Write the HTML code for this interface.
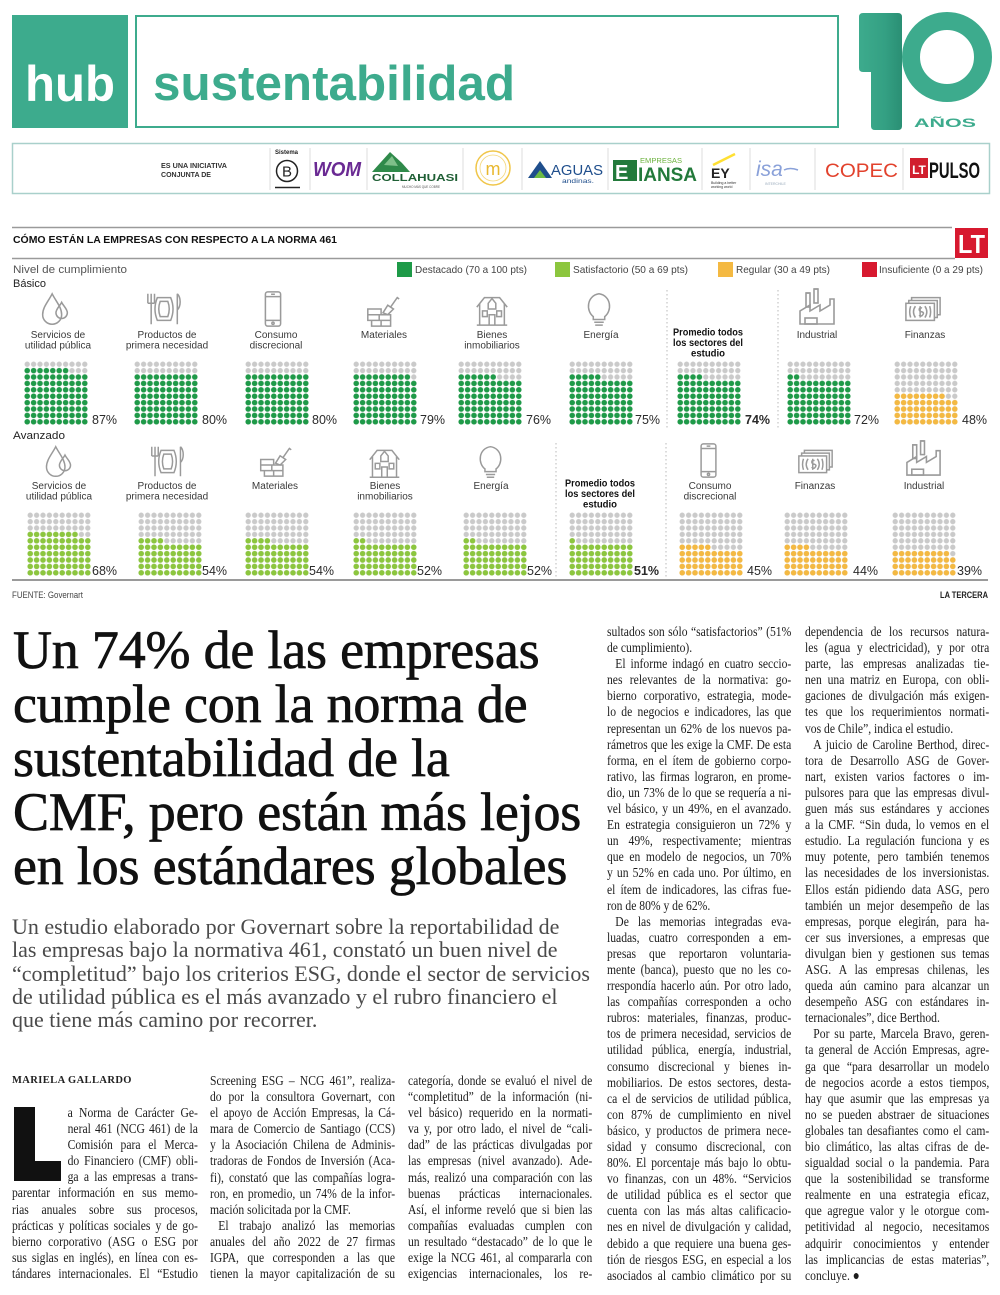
<!DOCTYPE html>
<html><head><meta charset="utf-8">
<style>
html,body{margin:0;padding:0;background:#fff;}
body{width:1000px;height:1295px;position:relative;overflow:hidden;font-family:"Liberation Sans",sans-serif;}
svg text{font-family:"Liberation Sans",sans-serif;}
.hl{position:absolute;left:13px;top:623px;font-family:"Liberation Serif",serif;font-size:54px;line-height:54px;color:#111;letter-spacing:-0.2px;-webkit-text-stroke:0.7px #111;white-space:nowrap;}
.deck{position:absolute;left:12px;top:915px;font-family:"Liberation Serif",serif;font-size:22px;line-height:23.3px;color:#4a4a4a;white-space:nowrap;}
.by{position:absolute;left:12px;top:1075px;font-family:"Liberation Serif",serif;font-weight:bold;font-size:10.5px;letter-spacing:0.4px;color:#222;}
.col{position:absolute;transform-origin:0 0;transform:scaleX(0.83);font-family:"Liberation Serif",serif;font-size:14px;line-height:16.1px;color:#1c1c1c;}
.col div{height:16.1px;white-space:nowrap;text-align:justify;text-align-last:justify;}
.col div.e{text-align-last:left;}
.col div.i{text-indent:10px;}
.col div.d{margin-left:67px;}
.dc{position:absolute;background:#111;}
</style></head><body>

<svg width="1000" height="610" viewBox="0 0 1000 610" style="position:absolute;left:0;top:0">
<defs>
<pattern id="pg" width="6.4" height="6.4" patternUnits="userSpaceOnUse"><circle cx="3.2" cy="3.2" r="2.65" fill="#cacaca"/></pattern>
<pattern id="pd" width="6.4" height="6.4" patternUnits="userSpaceOnUse"><circle cx="3.2" cy="3.2" r="2.75" fill="#1e9a48"/></pattern>
<pattern id="pl" width="6.4" height="6.4" patternUnits="userSpaceOnUse"><circle cx="3.2" cy="3.2" r="2.75" fill="#8cc63e"/></pattern>
<pattern id="py" width="6.4" height="6.4" patternUnits="userSpaceOnUse"><circle cx="3.2" cy="3.2" r="2.75" fill="#f4b942"/></pattern>
<linearGradient id="stem" x1="0" x2="1" y1="0" y2="0"><stop offset="0" stop-color="#3dab8d"/><stop offset="0.6" stop-color="#34a083"/><stop offset="1" stop-color="#2a8f74"/></linearGradient>

<symbol id="i-drop" viewBox="0 0 40 40"><g fill="none" stroke="#9a9a9a" stroke-width="1.6"><path d="M17 4 C13 12 7 18 7 26 a10 10 0 0 0 20 0 C27 18 21 12 17 4Z"/><path d="M27 13 C25 17 21 20 21 24 a6 6 0 0 0 12 0 C33 20 29 17 27 13Z"/></g></symbol>
<symbol id="i-plate" viewBox="0 0 40 40"><g fill="none" stroke="#9a9a9a" stroke-width="1.6"><path d="M3 4 v10 M6.5 4 v10 M10 4 v10 M3 14 h7 M6.5 14 v22"/><path d="M13 8 h14 q5 12 0 24 h-14 q-5 -12 0 -24z"/><path d="M16 12 h8 q3 8 0 16 h-8 q-3 -8 0 -16z"/><path d="M34 4 v32 M34 4 c4 4 4 13 0 17"/></g></symbol>
<symbol id="i-phone" viewBox="0 0 40 40"><g fill="none" stroke="#9a9a9a" stroke-width="1.6"><rect x="12" y="2" width="16" height="36" rx="2.5"/><path d="M12 7 h16 M12 32 h16 M18 4.5 h4"/><circle cx="20" cy="35" r="1.2"/></g></symbol>
<symbol id="i-brick" viewBox="0 0 40 40"><g fill="none" stroke="#9a9a9a" stroke-width="1.6"><path d="M4 20 h14 v6 h-14z M4 26 h24 v6 h-24z M8 32 h20 v6 h-20z M16 26 v6 M18 32 v6"/><path d="M20 24 l5 -8 l6 4 l-6 6z M28 18 l7 -10 l2 1.5"/></g></symbol>
<symbol id="i-house" viewBox="0 0 40 40"><g fill="none" stroke="#9a9a9a" stroke-width="1.6"><path d="M4 18 L12 8 H28 L36 18 M7 14 V37 H33 V14 M4 37 H36"/><path d="M16 14 L20 9 L24 14 V20 H16Z"/><rect x="10" y="22" width="5" height="6"/><rect x="25" y="22" width="5" height="6"/><path d="M17 37 V26 H23 V37"/></g></symbol>
<symbol id="i-bulb" viewBox="0 0 40 40"><g fill="none" stroke="#9a9a9a" stroke-width="1.6"><path d="M14 28 C6 22 7 6 20 4 C33 6 34 22 26 28 V31 H14Z"/><path d="M15 34 h10 M16 37 h8"/></g></symbol>
<symbol id="i-fact" viewBox="0 0 40 40"><g fill="none" stroke="#9a9a9a" stroke-width="1.6"><path d="M3 37 V24 L13 18 V24 L23 18 V24 L33 18 V12 L37 12 V37Z"/><rect x="9" y="6" width="4" height="14"/><rect x="17" y="2" width="4" height="14"/><path d="M9 6 h4 M17 2 h4"/><rect x="8" y="31" width="12" height="6"/></g></symbol>
<symbol id="i-money" viewBox="0 0 40 40"><g fill="none" stroke="#9a9a9a" stroke-width="1.6"><rect x="2" y="14" width="30" height="18"/><path d="M5 14 V11 H35 V29 H32 M8 11 V8 H38 V26 H35"/><path d="M12 17 q-4 6 0 12 M22 17 q4 6 0 12 M19 19 q-3 -1 -3 1.5 q0 2 3 2.5 q3 1 0 4 q-2 1 -3 -1 M17 17 v12"/><path d="M7 17 q-2 6 0 12 M27 17 q2 6 0 12"/></g></symbol>
</defs>

<!-- HEADER -->
<rect x="12" y="15" width="116" height="113" fill="#3dab8d"/>
<text x="70" y="101" font-size="50" font-weight="bold" fill="#fff" text-anchor="middle" textLength="90" lengthAdjust="spacingAndGlyphs">hub</text>
<rect x="136" y="16" width="702" height="111" fill="none" stroke="#3dab8d" stroke-width="2"/>
<text x="153" y="100" font-size="49" font-weight="bold" fill="#3dab8d" textLength="362" lengthAdjust="spacingAndGlyphs">sustentabilidad</text>

<path d="M859 17 Q859 13 863 13 L898 13 Q902 13 902 17 L902 126 Q902 130 898 130 L875 130 Q871 130 871 126 L871 72 L863 72 Q859 72 859 68 Z" fill="url(#stem)"/>
<circle cx="947" cy="57" r="36" fill="none" stroke="#3dab8d" stroke-width="18"/>
<text x="914" y="127" font-size="12" font-weight="bold" fill="#3dab8d" textLength="62" lengthAdjust="spacingAndGlyphs">AÑOS</text>

<!-- logo bar -->
<rect x="12.5" y="143.5" width="977" height="50" fill="none" stroke="#a9d0cb" stroke-width="1.5"/>
<text x="161" y="168" font-size="7.5" font-weight="bold" fill="#333" textLength="66" lengthAdjust="spacingAndGlyphs">ES UNA INICIATIVA</text>
<text x="161" y="177" font-size="7.5" font-weight="bold" fill="#333" textLength="50" lengthAdjust="spacingAndGlyphs">CONJUNTA DE</text>
<g stroke="#dcdcdc" stroke-width="1">
<line x1="270" y1="148" x2="270" y2="190"/><line x1="310" y1="148" x2="310" y2="190"/><line x1="367" y1="148" x2="367" y2="190"/><line x1="463" y1="148" x2="463" y2="190"/><line x1="522" y1="148" x2="522" y2="190"/><line x1="608" y1="148" x2="608" y2="190"/><line x1="702" y1="148" x2="702" y2="190"/><line x1="750" y1="148" x2="750" y2="190"/><line x1="815" y1="148" x2="815" y2="190"/><line x1="903" y1="148" x2="903" y2="190"/>
</g>
<text x="275" y="154" font-size="6" font-weight="bold" fill="#222">Sistema</text>
<circle cx="287" cy="171" r="10.5" fill="none" stroke="#222" stroke-width="1.5"/>
<text x="287" y="176.5" font-size="15" fill="#222" text-anchor="middle">B</text>
<line x1="275" y1="187.5" x2="300" y2="187.5" stroke="#222" stroke-width="1.5"/>
<text x="313" y="176" font-size="20" font-weight="bold" fill="#6a2a93" textLength="48" lengthAdjust="spacingAndGlyphs" font-style="italic">WOM</text>
<path d="M372 172 L390 152 L402 163 L410 172 Z" fill="#2f8a4a"/>
<path d="M384 165 L392 156 L398 166 Z" fill="#7fc08a"/>
<text x="372" y="181" font-size="10.5" font-weight="bold" fill="#1f5f35" textLength="86" lengthAdjust="spacingAndGlyphs">COLLAHUASI</text>
<text x="402" y="188" font-size="4" fill="#555" textLength="38" lengthAdjust="spacingAndGlyphs">MUCHO MÁS QUE COBRE</text>
<circle cx="493" cy="168" r="17" fill="none" stroke="#f0c64a" stroke-width="1.5"/>
<circle cx="493" cy="168" r="13" fill="none" stroke="#f4d77a" stroke-width="0.8"/>
<text x="493" y="175" font-size="18" fill="#e8b82f" text-anchor="middle">m</text>
<path d="M528 178 L540 161 L552 178 Z" fill="#1f4e8c"/>
<path d="M534 178 L540 170 L546 178 Z" fill="#6dbb45"/>
<text x="551" y="175" font-size="15" fill="#1f4e8c" textLength="52" lengthAdjust="spacingAndGlyphs">AGUAS</text>
<text x="562" y="183" font-size="6" fill="#1f4e8c" textLength="32" lengthAdjust="spacingAndGlyphs">andinas.</text>
<rect x="613" y="160" width="24" height="21" fill="#237a3b"/>
<text x="615" y="179" font-size="20" font-weight="bold" fill="#fff">E</text>
<text x="640" y="163" font-size="7" fill="#6db33f" textLength="42" lengthAdjust="spacingAndGlyphs">EMPRESAS</text>
<text x="638" y="181" font-size="19" font-weight="bold" fill="#237a3b" textLength="59" lengthAdjust="spacingAndGlyphs">IANSA</text>
<line x1="713" y1="165" x2="735" y2="154" stroke="#ffe033" stroke-width="2.5"/>
<text x="711" y="178" font-size="14" font-weight="bold" fill="#222">EY</text>
<text x="711" y="184" font-size="3.5" fill="#333">Building a better</text>
<text x="711" y="188" font-size="3.5" fill="#333">working world</text>
<text x="756" y="176" font-size="21" font-style="italic" fill="#8aa1d9" font-family="Liberation Serif">isa</text>
<path d="M784 170 q6 -3 14 0" stroke="#8aa1d9" stroke-width="1.5" fill="none"/>
<text x="765" y="185" font-size="3.5" fill="#9ab">INTERCHILE</text>
<text x="825" y="177" font-size="19" fill="#e2422d" textLength="73" lengthAdjust="spacingAndGlyphs">COPEC</text>
<rect x="910" y="158" width="18" height="20" fill="#d11f2e"/>
<text x="919" y="174" font-size="12" font-weight="bold" fill="#fff" text-anchor="middle">LT</text>
<text x="929" y="178" font-size="22" font-weight="bold" fill="#111" textLength="51" lengthAdjust="spacingAndGlyphs">PULSO</text>

<!-- CHART HEADER -->
<line x1="12" y1="227.5" x2="952" y2="227.5" stroke="#9a9a9a" stroke-width="1.5"/>
<rect x="955" y="228" width="33" height="30" fill="#d7192f"/>
<text x="971.5" y="253" font-size="26" font-weight="bold" fill="#fff" text-anchor="middle" textLength="27" lengthAdjust="spacingAndGlyphs">LT</text>
<text x="13" y="243" font-size="10.5" font-weight="bold" fill="#111" textLength="324" lengthAdjust="spacingAndGlyphs">CÓMO ESTÁN LA EMPRESAS CON RESPECTO A LA NORMA 461</text>
<line x1="12" y1="258.5" x2="955" y2="258.5" stroke="#9a9a9a" stroke-width="1.5"/>
<text x="13" y="273" font-size="11" fill="#555" textLength="114" lengthAdjust="spacingAndGlyphs">Nivel de cumplimiento</text>
<text x="13" y="287" font-size="11" fill="#222" textLength="33" lengthAdjust="spacingAndGlyphs">Básico</text>

<rect x="397" y="262" width="15" height="15" fill="#1e9a48"/>
<text x="415" y="273" font-size="10.5" fill="#444" textLength="112" lengthAdjust="spacingAndGlyphs">Destacado (70 a 100 pts)</text>
<rect x="555" y="262" width="15" height="15" fill="#8cc63e"/>
<text x="573" y="273" font-size="10.5" fill="#444" textLength="115" lengthAdjust="spacingAndGlyphs">Satisfactorio (50 a 69 pts)</text>
<rect x="718" y="262" width="15" height="15" fill="#f4b942"/>
<text x="736" y="273" font-size="10.5" fill="#444" textLength="94" lengthAdjust="spacingAndGlyphs">Regular (30 a 49 pts)</text>
<rect x="862" y="262" width="15" height="15" fill="#d7192f"/>
<text x="879" y="273" font-size="10.5" fill="#444" textLength="104" lengthAdjust="spacingAndGlyphs">Insuficiente (0 a 29 pts)</text>

<!-- separators -->
<g stroke="#b8b8b8" stroke-width="1" stroke-dasharray="1.5,2.5">
<line x1="667" y1="290" x2="667" y2="428"/><line x1="778" y1="290" x2="778" y2="428"/>
<line x1="556" y1="443" x2="556" y2="578"/><line x1="666" y1="443" x2="666" y2="578"/>
</g>

<!-- TOP ROW ICONS -->
<use href="#i-drop" x="36" y="290" width="38" height="38"/>
<use href="#i-plate" x="145" y="290" width="38" height="38"/>
<use href="#i-phone" x="254" y="290" width="38" height="38"/>
<use href="#i-brick" x="364" y="290" width="38" height="38"/>
<use href="#i-house" x="473" y="290" width="38" height="38"/>
<use href="#i-bulb" x="580" y="290" width="38" height="38"/>
<use href="#i-fact" x="797" y="287" width="40" height="40"/>
<use href="#i-money" x="904" y="290" width="38" height="38"/>

<!-- TOP ROW LABELS -->
<g font-size="10" fill="#3a3a3a" text-anchor="middle">
<text x="58" y="338">Servicios de</text><text x="58" y="348.5">utilidad pública</text>
<text x="167" y="338">Productos de</text><text x="167" y="348.5">primera necesidad</text>
<text x="276" y="338">Consumo</text><text x="276" y="348.5">discrecional</text>
<text x="384" y="338">Materiales</text>
<text x="492" y="338">Bienes</text><text x="492" y="348.5">inmobiliarios</text>
<text x="601" y="338">Energía</text>
<text x="817" y="338">Industrial</text>
<text x="925" y="338">Finanzas</text>
</g>
<g font-size="10" font-weight="bold" fill="#111" text-anchor="middle">
<text x="708" y="335.5" textLength="70" lengthAdjust="spacingAndGlyphs">Promedio todos</text>
<text x="708" y="346" textLength="70" lengthAdjust="spacingAndGlyphs">los sectores del</text>
<text x="708" y="356.5" textLength="34" lengthAdjust="spacingAndGlyphs">estudio</text>
</g>

<!-- TOP ROW GRIDS -->
<g transform="translate(24,361)"><rect width="64" height="64" fill="url(#pg)"/><rect y="12.8" width="64" height="51.2" fill="url(#pd)"/><rect y="6.4" width="44.8" height="6.4" fill="url(#pd)"/></g>
<g transform="translate(134,361)"><rect width="64" height="64" fill="url(#pg)"/><rect y="12.8" width="64" height="51.2" fill="url(#pd)"/></g>
<g transform="translate(245,361)"><rect width="64" height="64" fill="url(#pg)"/><rect y="12.8" width="64" height="51.2" fill="url(#pd)"/></g>
<g transform="translate(353,361)"><rect width="64" height="64" fill="url(#pg)"/><rect y="19.2" width="64" height="44.8" fill="url(#pd)"/><rect y="12.8" width="57.6" height="6.4" fill="url(#pd)"/></g>
<g transform="translate(458,361)"><rect width="64" height="64" fill="url(#pg)"/><rect y="19.2" width="64" height="44.8" fill="url(#pd)"/><rect y="12.8" width="38.4" height="6.4" fill="url(#pd)"/></g>
<g transform="translate(569,361)"><rect width="64" height="64" fill="url(#pg)"/><rect y="19.2" width="64" height="44.8" fill="url(#pd)"/><rect y="12.8" width="32" height="6.4" fill="url(#pd)"/></g>
<g transform="translate(677,361)"><rect width="64" height="64" fill="url(#pg)"/><rect y="19.2" width="64" height="44.8" fill="url(#pd)"/><rect y="12.8" width="25.6" height="6.4" fill="url(#pd)"/></g>
<g transform="translate(787,361)"><rect width="64" height="64" fill="url(#pg)"/><rect y="19.2" width="64" height="44.8" fill="url(#pd)"/><rect y="12.8" width="12.8" height="6.4" fill="url(#pd)"/></g>
<g transform="translate(894,361)"><rect width="64" height="64" fill="url(#pg)"/><rect y="38.4" width="64" height="25.6" fill="url(#py)"/><rect y="32" width="51.2" height="6.4" fill="url(#py)"/></g>

<g font-size="12.5" fill="#2a2a2a">
<text x="92" y="424">87%</text><text x="202" y="424">80%</text><text x="312" y="424">80%</text><text x="420" y="424">79%</text><text x="526" y="424">76%</text><text x="635" y="424">75%</text><text x="745" y="424" font-weight="bold">74%</text><text x="854" y="424">72%</text><text x="962" y="424">48%</text>
</g>

<text x="13" y="439" font-size="11" fill="#222" textLength="52" lengthAdjust="spacingAndGlyphs">Avanzado</text>

<!-- BOTTOM ROW ICONS -->
<use href="#i-drop" x="40" y="443" width="37" height="37"/>
<use href="#i-plate" x="149" y="443" width="37" height="37"/>
<use href="#i-brick" x="257" y="441" width="37" height="37"/>
<use href="#i-house" x="366" y="443" width="37" height="37"/>
<use href="#i-bulb" x="472" y="443" width="37" height="37"/>
<use href="#i-phone" x="690" y="442" width="37" height="37"/>
<use href="#i-money" x="797" y="443" width="37" height="37"/>
<use href="#i-fact" x="904" y="439" width="39" height="39"/>

<g font-size="10" fill="#3a3a3a" text-anchor="middle">
<text x="59" y="489">Servicios de</text><text x="59" y="499.5">utilidad pública</text>
<text x="167" y="489">Productos de</text><text x="167" y="499.5">primera necesidad</text>
<text x="275" y="489">Materiales</text>
<text x="385" y="489">Bienes</text><text x="385" y="499.5">inmobiliarios</text>
<text x="491" y="489">Energía</text>
<text x="710" y="489">Consumo</text><text x="710" y="499.5">discrecional</text>
<text x="815" y="489">Finanzas</text>
<text x="924" y="489">Industrial</text>
</g>
<g font-size="10" font-weight="bold" fill="#111" text-anchor="middle">
<text x="600" y="486.5" textLength="70" lengthAdjust="spacingAndGlyphs">Promedio todos</text>
<text x="600" y="497" textLength="70" lengthAdjust="spacingAndGlyphs">los sectores del</text>
<text x="600" y="507.5" textLength="34" lengthAdjust="spacingAndGlyphs">estudio</text>
</g>

<!-- BOTTOM ROW GRIDS -->
<g transform="translate(27,512)"><rect width="64" height="64" fill="url(#pg)"/><rect y="25.6" width="64" height="38.4" fill="url(#pl)"/><rect y="19.2" width="51.2" height="6.4" fill="url(#pl)"/></g>
<g transform="translate(138,512)"><rect width="64" height="64" fill="url(#pg)"/><rect y="32" width="64" height="32" fill="url(#pl)"/><rect y="25.6" width="25.6" height="6.4" fill="url(#pl)"/></g>
<g transform="translate(245,512)"><rect width="64" height="64" fill="url(#pg)"/><rect y="32" width="64" height="32" fill="url(#pl)"/><rect y="25.6" width="25.6" height="6.4" fill="url(#pl)"/></g>
<g transform="translate(353,512)"><rect width="64" height="64" fill="url(#pg)"/><rect y="32" width="64" height="32" fill="url(#pl)"/><rect y="25.6" width="12.8" height="6.4" fill="url(#pl)"/></g>
<g transform="translate(463,512)"><rect width="64" height="64" fill="url(#pg)"/><rect y="32" width="64" height="32" fill="url(#pl)"/><rect y="25.6" width="12.8" height="6.4" fill="url(#pl)"/></g>
<g transform="translate(569,512)"><rect width="64" height="64" fill="url(#pg)"/><rect y="32" width="64" height="32" fill="url(#pl)"/><rect y="25.6" width="6.4" height="6.4" fill="url(#pl)"/></g>
<g transform="translate(679,512)"><rect width="64" height="64" fill="url(#pg)"/><rect y="38.4" width="64" height="25.6" fill="url(#py)"/><rect y="32" width="32" height="6.4" fill="url(#py)"/></g>
<g transform="translate(784,512)"><rect width="64" height="64" fill="url(#pg)"/><rect y="38.4" width="64" height="25.6" fill="url(#py)"/><rect y="32" width="25.6" height="6.4" fill="url(#py)"/></g>
<g transform="translate(892,512)"><rect width="64" height="64" fill="url(#pg)"/><rect y="44.8" width="64" height="19.2" fill="url(#py)"/><rect y="38.4" width="57.6" height="6.4" fill="url(#py)"/></g>

<g font-size="12.5" fill="#2a2a2a">
<text x="92" y="575">68%</text><text x="202" y="575">54%</text><text x="309" y="575">54%</text><text x="417" y="575">52%</text><text x="527" y="575">52%</text><text x="634" y="575" font-weight="bold">51%</text><text x="747" y="575">45%</text><text x="853" y="575">44%</text><text x="957" y="575">39%</text>
</g>

<line x1="12" y1="580" x2="988" y2="580" stroke="#9a9a9a" stroke-width="2"/>
<text x="12" y="598" font-size="9" fill="#444" textLength="71" lengthAdjust="spacingAndGlyphs">FUENTE: Governart</text>
<text x="988" y="598" font-size="9" font-weight="bold" fill="#222" text-anchor="end" textLength="48" lengthAdjust="spacingAndGlyphs">LA TERCERA</text>
</svg>

<div class="hl">Un 74% de las empresas<br>cumple con la norma de<br>sustentabilidad de la<br>CMF, pero están más lejos<br>en los estándares globales</div>

<div class="deck">Un estudio elaborado por Governart sobre la reportabilidad de<br>las empresas bajo la normativa 461, constató un buen nivel de<br>“completitud” bajo los criterios ESG, donde el sector de servicios<br>de utilidad pública es el más avanzado y el rubro financiero el<br>que tiene más camino por recorrer.</div>

<div class="by">MARIELA GALLARDO</div>

<div class="dc" style="left:14px;top:1107px;width:21px;height:74px;"></div>
<div class="dc" style="left:14px;top:1161px;width:47px;height:20px;"></div>

<div class="col" style="left:12px;top:1106px;width:224px;">
<div class="d">a Norma de Carácter Ge-</div>
<div class="d">neral 461 (NCG 461) de la</div>
<div class="d">Comisión para el Merca-</div>
<div class="d">do Financiero (CMF) obli-</div>
<div class="d">ga a las empresas a trans-</div>
<div>parentar información en sus memo-</div>
<div>rias anuales sobre sus procesos,</div>
<div>prácticas y políticas sociales y de go-</div>
<div>bierno corporativo (ASG o ESG por</div>
<div>sus siglas en inglés), en línea con es-</div>
<div>tándares internacionales. El “Estudio</div>
</div>

<div class="col" style="left:210px;top:1074px;width:223px;">
<div>Screening ESG – NCG 461”, realiza-</div>
<div>do por la consultora Governart, con</div>
<div>el apoyo de Acción Empresas, la Cá-</div>
<div>mara de Comercio de Santiago (CCS)</div>
<div>y la Asociación Chilena de Adminis-</div>
<div>tradoras de Fondos de Inversión (Aca-</div>
<div>fi), constató que las compañías logra-</div>
<div>ron, en promedio, un 74% de la infor-</div>
<div class="e">mación solicitada por la CMF.</div>
<div class="i">El trabajo analizó las memorias</div>
<div>anuales del año 2022 de 27 firmas</div>
<div>IGPA, que corresponden a las que</div>
<div>tienen la mayor capitalización de su</div>
</div>

<div class="col" style="left:408px;top:1074px;width:222px;">
<div>categoría, donde se evaluó el nivel de</div>
<div>“completitud” de la información (ni-</div>
<div>vel básico) requerido en la normati-</div>
<div>va y, por otro lado, el nivel de “cali-</div>
<div>dad” de las prácticas divulgadas por</div>
<div>las empresas (nivel avanzado). Ade-</div>
<div>más, realizó una comparación con las</div>
<div>buenas prácticas internacionales.</div>
<div>Así, el informe reveló que si bien las</div>
<div>compañías evaluadas cumplen con</div>
<div>un resultado “destacado” de lo que le</div>
<div>exige la NCG 461, al compararla con</div>
<div>exigencias internacionales, los re-</div>
</div>

<div class="col" style="left:607px;top:625px;width:222px;">
<div>sultados son sólo “satisfactorios” (51%</div>
<div class="e">de cumplimiento).</div>
<div class="i">El informe indagó en cuatro seccio-</div>
<div>nes relevantes de la normativa: go-</div>
<div>bierno corporativo, estrategia, mode-</div>
<div>lo de negocios e indicadores, las que</div>
<div>representan un 62% de los nuevos pa-</div>
<div>rámetros que les exige la CMF. De esta</div>
<div>forma, en el ítem de gobierno corpo-</div>
<div>rativo, las firmas lograron, en prome-</div>
<div>dio, un 73% de lo que se requería a ni-</div>
<div>vel básico, y un 49%, en el avanzado.</div>
<div>En estrategia consiguieron un 72% y</div>
<div>un 49%, respectivamente; mientras</div>
<div>que en modelo de negocios, un 70%</div>
<div>y un 52% en cada uno. Por último, en</div>
<div>el ítem de indicadores, las cifras fue-</div>
<div class="e">ron de 80% y de 62%.</div>
<div class="i">De las memorias integradas eva-</div>
<div>luadas, cuatro corresponden a em-</div>
<div>presas que reportaron voluntaria-</div>
<div>mente (banca), puesto que no les co-</div>
<div>rrespondía hacerlo aún. Por otro lado,</div>
<div>las compañías corresponden a ocho</div>
<div>rubros: materiales, finanzas, produc-</div>
<div>tos de primera necesidad, servicios de</div>
<div>utilidad pública, energía, industrial,</div>
<div>consumo discrecional y bienes in-</div>
<div>mobiliarios. De estos sectores, desta-</div>
<div>ca el de servicios de utilidad pública,</div>
<div>con 87% de cumplimiento en nivel</div>
<div>básico, y productos de primera nece-</div>
<div>sidad y consumo discrecional, con</div>
<div>80%. El porcentaje más bajo lo obtu-</div>
<div>vo finanzas, con un 48%. “Servicios</div>
<div>de utilidad pública es el sector que</div>
<div>cuenta con las más altas calificacio-</div>
<div>nes en nivel de divulgación y calidad,</div>
<div>debido a que requiere una buena ges-</div>
<div>tión de riesgos ESG, en especial a los</div>
<div>asociados al cambio climático por su</div>
</div>

<div class="col" style="left:805px;top:625px;width:222px;">
<div>dependencia de los recursos natura-</div>
<div>les (agua y electricidad), y por otra</div>
<div>parte, las empresas analizadas tie-</div>
<div>nen una matriz en Europa, con obli-</div>
<div>gaciones de divulgación más exigen-</div>
<div>tes que los requerimientos normati-</div>
<div class="e">vos de Chile”, indica el estudio.</div>
<div class="i">A juicio de Caroline Berthod, direc-</div>
<div>tora de Desarrollo ASG de Gover-</div>
<div>nart, existen varios factores o im-</div>
<div>pulsores para que las empresas divul-</div>
<div>guen más sus estándares y acciones</div>
<div>a la CMF. “Sin duda, lo vemos en el</div>
<div>estudio. La regulación funciona y es</div>
<div>muy potente, pero también tenemos</div>
<div>las necesidades de los inversionistas.</div>
<div>Ellos están pidiendo data ASG, pero</div>
<div>también un mejor desempeño de las</div>
<div>empresas, porque elegirán, para ha-</div>
<div>cer sus inversiones, a empresas que</div>
<div>divulgan bien y gestionen sus temas</div>
<div>ASG. A las empresas chilenas, les</div>
<div>queda aún camino para alcanzar un</div>
<div>desempeño ASG con estándares in-</div>
<div class="e">ternacionales”, dice Berthod.</div>
<div class="i">Por su parte, Marcela Bravo, geren-</div>
<div>ta general de Acción Empresas, agre-</div>
<div>ga que “para desarrollar un modelo</div>
<div>de negocios acorde a estos tiempos,</div>
<div>hay que asumir que las empresas ya</div>
<div>no se pueden abstraer de situaciones</div>
<div>globales tan desafiantes como el cam-</div>
<div>bio climático, las altas cifras de de-</div>
<div>sigualdad social o la pandemia. Para</div>
<div>que la sostenibilidad se transforme</div>
<div>realmente en una estrategia eficaz,</div>
<div>que agregue valor y le otorgue com-</div>
<div>petitividad al negocio, necesitamos</div>
<div>adquirir conocimientos y entender</div>
<div>las implicancias de estas materias”,</div>
<div class="e">concluye. ●</div>
</div>

</body></html>
